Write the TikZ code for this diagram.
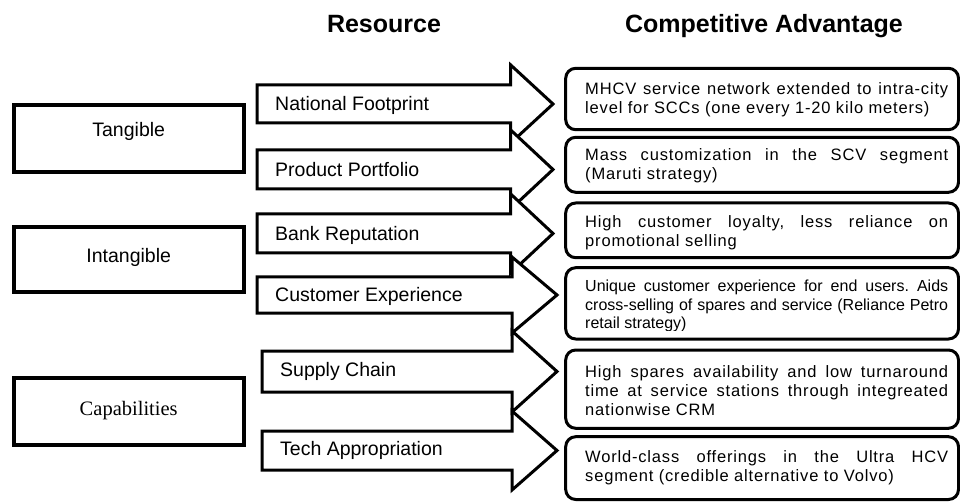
\documentclass[tikz,border=0pt]{standalone}
\usepackage{fontspec}
\newfontfamily\arial{Liberation Sans}
\newfontfamily\arialsp{Liberation Sans}[LetterSpace=5]
\newfontfamily\serifcap{Liberation Serif}
\frenchspacing
\newcommand\blockarr[5]{%
  \draw[arr] (#1,#2) -- (#4,#2) -- (#4,{#2-20}) -- (#5,{(#2+#3)/2})
    -- (#4,{#3+20}) -- (#4,#3) -- (#1,#3) -- cycle;}
\newcommand\jline[1]{\makebox[363pt][s]{#1}}
\tikzset{
  lbox/.style={draw, line width=4pt, minimum width=230pt, inner sep=0pt},
  arr/.style={draw, fill=white, line width=3pt, line join=miter},
  rbox/.style={draw, line width=3pt, rounded corners=10pt, minimum width=392.8pt, inner sep=0pt},
  arrtxt/.style={anchor=base west, inner sep=0pt, font=\arial\fontsize{19.5}{23}\selectfont},
  lbltxt/.style={anchor=base, inner sep=0pt, font=\arial\fontsize{19.5}{23}\selectfont},
  captxt/.style={anchor=base, inner sep=0pt, font=\serifcap\fontsize{20.5}{24}\selectfont},
  title/.style={anchor=base, inner sep=0pt, font=\arial\bfseries\fontsize{25}{30}\selectfont},
  rtxt/.style={anchor=north west, inner sep=0pt, align=left, font=\arialsp\fontsize{16.5}{19.3}\selectfont},
  rtxtb/.style={anchor=north west, inner sep=0pt, align=left, font=\arial\fontsize{16}{18.5}\selectfont}
}
\begin{document}
\begin{tikzpicture}[x=1pt,y=-1pt]
\useasboundingbox (0,0) rectangle (960,502);

% titles
\node[title] (t1) at (384,33) {Resource};
\node[title] (t2) at (764,33) {Competitive Advantage};

% left boxes
\node[lbox, minimum height=67.5pt] (tang) at (128.7,138.75) {};
\node[lbltxt] (tangl) at (128.7,136.7) {Tangible};
\node[lbox, minimum height=65.3pt] (intang) at (128.7,259.35) {};
\node[lbltxt] (intangl) at (128.7,262.3) {Intangible};
\node[lbox, minimum height=67.3pt] (capab) at (128.7,411.65) {};
\node[captxt] (capabl) at (128.7,415) {Capabilities};

% block arrows
\blockarr{257}{85}{123}{510.7}{553}
\node[arrtxt] (a1) at (275,110.5) {National Footprint};
\blockarr{257}{150}{189}{510.7}{553}
\node[arrtxt] (a2) at (275,176.2) {Product Portfolio};
\blockarr{257}{214}{253}{510.7}{553}
\node[arrtxt] (a3) at (275,240.2) {Bank Reputation};
\blockarr{257}{277}{313}{512}{557}
\node[arrtxt] (a4) at (275,301.7) {Customer Experience};
\blockarr{262}{351}{392}{512}{557}
\node[arrtxt] (a5) at (280,376) {Supply Chain};
\blockarr{262}{431}{470}{512}{557}
\node[arrtxt] (a6) at (280,455.7) {Tech Appropriation};

% right boxes
\node[rbox, minimum height=61.4pt] (r1) at (762.1,99) {};
\node[rtxt] (r1t) at (585,82.2) {\jline{MHCV service network extended to intra-city}\\level for SCCs (one every 1-20 kilo meters)};
\node[rbox, minimum height=55pt] (r2) at (762.1,164.8) {};
\node[rtxt] (r2t) at (585,148.2) {\jline{Mass customization in the SCV segment}\\(Maruti strategy)};
\node[rbox, minimum height=54.7pt] (r3) at (762.1,230.35) {};
\node[rtxt] (r3t) at (585,215.2) {\jline{High customer loyalty, less reliance on}\\promotional selling};
\node[rbox, minimum height=71.3pt] (r4) at (762.1,303.35) {};
\begin{scope}
\clip (570,270) rectangle (955,330.6);
\node[rtxtb] (r4t) at (585,280.2) {\jline{Unique customer experience for end users. Aids}\\\jline{cross-selling of spares and service (Reliance Petro}\\retail strategy)};
\end{scope}
\node[rbox, minimum height=78.3pt] (r5) at (762.1,389.15) {};
\node[rtxt] (r5t) at (585,365.2) {\jline{High spares availability and low turnaround}\\\jline{time at service stations through integreated}\\nationwise CRM};
\node[rbox, minimum height=62.8pt] (r6) at (762.1,468.1) {};
\node[rtxt] (r6t) at (585,449.9) {\jline{World-class offerings in the Ultra HCV}\\segment (credible alternative to Volvo)};
\end{tikzpicture}
\end{document}
